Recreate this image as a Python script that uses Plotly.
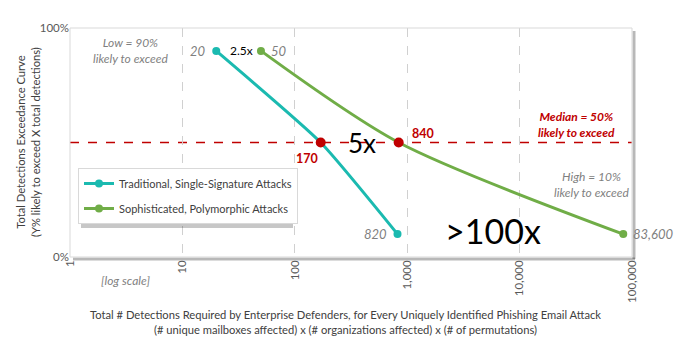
import math
import plotly.graph_objects as go

# ---- data ----
trad_name = "Traditional, Single-Signature Attacks"
trad_x = [20, 170, 820]
trad_y = [0.9, 0.5, 0.1]

soph_name = "Sophisticated, Polymorphic Attacks"
soph_x = [50, 840, 83600]
soph_y = [0.9, 0.5, 0.1]

median_x = [170, 840]
median_y = [0.5, 0.5]

x_tickvals = [1, 10, 100, 1000, 10000, 100000]
x_ticktext = ["1", "10", "100", "1,000", "10,000", "100,000"]
y_tickvals = [0, 1]
y_ticktext = ["0%", "100%"]

TEAL = "#1BBAB0"
GREEN = "#70AD47"
RED = "#C00000"
GRAY = "#7F7F7F"
FONT = "Lato, 'Open Sans', sans-serif"

fig = go.Figure()
fig.add_trace(go.Scatter(x=trad_x, y=trad_y, name=trad_name, mode="lines+markers",
                         line=dict(color=TEAL, width=3, shape="spline", smoothing=0.5),
                         marker=dict(size=8, color=TEAL), legendgroup="a"))
fig.add_trace(go.Scatter(x=soph_x, y=soph_y, name=soph_name, mode="lines+markers",
                         line=dict(color=GREEN, width=3, shape="spline", smoothing=0.8),
                         marker=dict(size=8, color=GREEN), legendgroup="b"))
fig.add_trace(go.Scatter(x=median_x, y=median_y, mode="markers", showlegend=False,
                         marker=dict(size=10, color=RED)))

W, H = 690, 356
L, R, T, B = 70, 58, 28, 99
pw, ph = W - L - R, H - T - B

def px(xp):
    return (xp - L) / pw

def py(yp):
    return (H - B - yp) / ph

shapes = []
# plot area shadow
shapes.append(dict(type="line", xref="paper", yref="paper", x0=1 + 2 / pw, x1=1 + 2 / pw,
                   y0=-2 / ph, y1=1 - 3 / ph, line=dict(color="rgba(0,0,0,0.28)", width=3)))
shapes.append(dict(type="line", xref="paper", yref="paper", x0=3 / pw, x1=1 + 3 / pw,
                   y0=-2 / ph, y1=-2 / ph, line=dict(color="rgba(0,0,0,0.28)", width=3)))
# plot area border
shapes.append(dict(type="rect", xref="paper", yref="paper", x0=0, x1=1, y0=0, y1=1,
                   line=dict(color="#D9D9D9", width=1)))
# median line
shapes.append(dict(type="line", xref="paper", yref="y", x0=0, x1=1, y0=0.5, y1=0.5,
                   line=dict(color=RED, width=1.3, dash="dash"), layer="below"))
# legend shadow
lx0, ly0, lx1, ly1 = 78, 168, 290, 225
shapes.append(dict(type="rect", xref="paper", yref="paper",
                   x0=px(lx0 + 3), x1=px(lx1 + 3), y0=py(ly1 + 3), y1=py(ly0 + 3),
                   line=dict(width=0), fillcolor="rgba(0,0,0,0.22)", layer="above"))

ann = []
def a(text, x, y, xref="x", yref="y", **kw):
    d = dict(text=text, x=x, y=y, xref=xref, yref=yref, showarrow=False,
             xanchor="center", yanchor="middle",
             font=dict(family=FONT, size=12, color=GRAY))
    if "font" in kw:
        d["font"].update(kw.pop("font"))
    d.update(kw)
    ann.append(d)

lg = math.log10
a("<i>20</i>", lg(trad_x[0]), trad_y[0], xanchor="right", xshift=-8, font=dict(size=13))
a("2.5x", lg(math.sqrt(trad_x[0] * soph_x[0])), 0.9, xshift=3, font=dict(size=12, color="#000000"))
a("<i>50</i>", lg(soph_x[0]), soph_y[0], xanchor="left", xshift=8, font=dict(size=13))
a("<b>170</b>", lg(median_x[0]), 0.5, xshift=-14, yshift=-16, font=dict(size=12.5, color=RED))
a("5x", lg(math.sqrt(median_x[0] * median_x[1])), 0.5, xshift=2, font=dict(size=26, color="#000000"))
a("<b>840</b>", lg(median_x[1]), 0.5, xanchor="left", xshift=11, yshift=9, font=dict(size=12.5, color=RED))
a("<i>820</i>", lg(trad_x[2]), trad_y[2], xanchor="right", xshift=-9, font=dict(size=13))
a("<i>83,600</i>", lg(soph_x[2]), soph_y[2], xanchor="left", xshift=8, font=dict(size=13))
a(">100x", px(493), py(230), "paper", "paper", font=dict(size=34, color="#000000"))
a("<b><i>Median = 50%<br>likely to exceed</i></b>", px(576), py(124), "paper", "paper",
  font=dict(size=12, color=RED))
a("<i>High = 10%<br>likely to exceed</i>", px(591), py(184), "paper", "paper", font=dict(size=12))
a("<i>Low = 90%<br>likely to exceed</i>", px(130), py(50), "paper", "paper", font=dict(size=12))
a("<i>[log scale]</i>", px(125), py(280), "paper", "paper", font=dict(size=12))
a("Total # Detections Required by Enterprise Defenders, for Every Uniquely Identified Phishing Email Attack<br>"
  "(# unique mailboxes affected) x (# organizations affected) x (# of permutations)",
  px(345), py(322), "paper", "paper", font=dict(size=11.2, color="#404040"))
a("Total Detections Exceedance Curve<br>(Y% likely to exceed X total detections)",
  px(28), py(142), "paper", "paper", textangle=-90, font=dict(size=11.2, color="#404040"))

fig.update_layout(
    width=W, height=H,
    margin=dict(l=L, r=R, t=T, b=B, autoexpand=False),
    paper_bgcolor="white", plot_bgcolor="white",
    font=dict(family=FONT, size=11, color="#595959"),
    xaxis=dict(type="log", range=[0, 5], tickvals=x_tickvals, ticktext=x_ticktext,
               tickangle=-90, showgrid=True, gridcolor="#D0D0D0", griddash="dash",
               gridwidth=1, zeroline=False, showline=False, ticks="", automargin=False,
               tickfont=dict(size=11.5, color="#595959")),
    yaxis=dict(range=[0, 1], tickvals=y_tickvals, ticktext=y_ticktext, showgrid=False,
               zeroline=False, showline=False, ticks="", automargin=False,
               tickfont=dict(size=11.5, color="#595959")),
    legend=dict(x=px(lx0), y=py(ly0), xanchor="left", yanchor="top",
                bgcolor="white", bordercolor="#D9D9D9", borderwidth=1,
                tracegroupgap=6, itemwidth=30, font=dict(size=11, color="#404040"),
                traceorder="grouped"),
    shapes=shapes, annotations=ann,
)

fig.write_html("out.html", config={"displayModeBar": False},
               post_script="document.body.style.margin='0px';")
